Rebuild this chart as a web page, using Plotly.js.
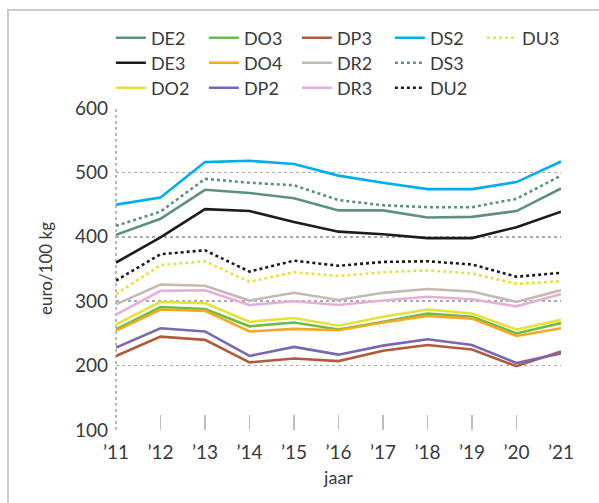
<!DOCTYPE html>
<html>
<head>
<meta charset="utf-8">
<script src="https://cdn.plot.ly/plotly-3.0.1.min.js"></script>
<style>html,body{margin:0;padding:0;background:#fff;}#chart{width:599px;height:503px;}</style>
</head>
<body>
<div id="chart"></div>
<script>
var years = ["\u201911","\u201912","\u201913","\u201914","\u201915","\u201916","\u201917","\u201918","\u201919","\u201920","\u201921"];
var DE2 = [403,428,473,468,460,441,441,430,431,440,475];
var DE3 = [360,399,443,440,423,408,404,398,398,415,439];
var DO2 = [264,299,297,268,274,262,276,287,281,256,271];
var DO3 = [256,291,288,261,267,256,268,281,276,250,266];
var DO4 = [254,287,285,253,257,255,267,277,273,246,258];
var DP2 = [228,258,253,215,229,217,231,241,232,204,219];
var DP3 = [215,245,240,205,211,207,223,232,225,199,222];
var DR2 = [295,326,324,301,313,302,313,319,315,299,317];
var DR3 = [279,316,317,294,300,294,301,307,303,292,311];
var DS2 = [450,461,516,518,513,495,484,474,474,485,517];
var DS3 = [417,439,490,484,480,457,449,446,446,459,495];
var DU2 = [332,373,379,346,363,355,361,362,357,338,344];
var DU3 = [311,356,362,330,345,339,345,348,343,327,331];

function tr(name, y, color, dash, leg) {
  return {x: years, y: y, name: name, type: 'scatter', mode: 'lines', legend: leg,
    line: {color: color, width: 2.6, dash: dash || 'solid'}};
}
var data = [
  tr('DE2', DE2, '#5e9278', 'solid', 'legend'),
  tr('DO3', DO3, '#6cbd45', 'solid', 'legend'),
  tr('DP3', DP3, '#b15a3c', 'solid', 'legend'),
  tr('DS2', DS2, '#00aeef', 'solid', 'legend'),
  tr('DU3', DU3, '#e3e33b', 'dot', 'legend4'),
  tr('DE3', DE3, '#1c1c1c', 'solid', 'legend2'),
  tr('DO4', DO4, '#f7a823', 'solid', 'legend2'),
  tr('DR2', DR2, '#c5bab1', 'solid', 'legend2'),
  tr('DS3', DS3, '#5e9278', 'dot', 'legend2'),
  tr('DO2', DO2, '#e3e33b', 'solid', 'legend3'),
  tr('DP2', DP2, '#7b66b1', 'solid', 'legend3'),
  tr('DR3', DR3, '#e6afd7', 'solid', 'legend3'),
  tr('DU2', DU2, '#1c1c1c', 'dot', 'legend3')
];

var fam = 'Lato, "Open Sans", sans-serif';
var txt = '#3a3a3a';
function leg(ypx, xp, ew) {
  return {orientation: 'h', x: xp, xanchor: 'left', y: (430 - ypx) / 322, yanchor: 'middle',
    entrywidth: ew, entrywidthmode: 'pixels', font: {size: 18, color: txt, family: fam},
    bgcolor: 'rgba(0,0,0,0)', traceorder: 'normal', borderwidth: 0};
}
var layout = {
  width: 599, height: 503,
  margin: {l: 116, r: 38, t: 108, b: 73},
  paper_bgcolor: '#fff', plot_bgcolor: '#fff',
  font: {family: fam, color: txt, size: 18},
  showlegend: true,
  legend: leg(38, -0.0115, 48), legend2: leg(63, -0.0115, 48), legend3: leg(88, -0.0115, 48),
  legend4: leg(38, 0.8225, 0),
  xaxis: {type: 'category', range: [0, 10], showgrid: false, zeroline: false, showline: false,
    ticks: 'inside', ticklen: 15, tickcolor: '#bdbdbd', tickwidth: 1.5,
    tickfont: {size: 19, color: txt, family: fam}, ticklabelstandoff: 9,
    title: {text: 'jaar', font: {size: 18, color: txt, family: fam}, standoff: 9}, automargin: false, fixedrange: true},
  yaxis: {range: [100, 600], dtick: 100, tick0: 100, showgrid: true, gridcolor: '#ababab', griddash: 'dot', gridwidth: 1.6,
    zeroline: false, showline: false, ticks: '', tickfont: {size: 19, color: txt, family: fam}, ticklabelstandoff: 7,
    automargin: false, fixedrange: true},
  annotations: [
    {text: 'euro/100 kg', xref: 'paper', yref: 'paper', x: (45 - 116) / 445, y: 0.5,
      xanchor: 'center', yanchor: 'middle', textangle: -90, showarrow: false,
      font: {size: 17, color: txt, family: fam}}
  ],
  shapes: [
    {type: 'line', xref: 'paper', yref: 'paper', x0: 0, x1: 0, y0: 0, y1: 1,
      line: {color: '#ababab', width: 1.6, dash: 'dot'}, layer: 'below'},
    {type: 'rect', xref: 'paper', yref: 'paper', x0: -0.2427, x1: 1.3, y0: -0.4, y1: 1.3043,
      line: {color: '#cccccc', width: 2}, fillcolor: 'rgba(0,0,0,0)', layer: 'below'}
  ]
};
Plotly.newPlot('chart', data, layout, {staticPlot: true, displayModeBar: false});
</script>
</body>
</html>
